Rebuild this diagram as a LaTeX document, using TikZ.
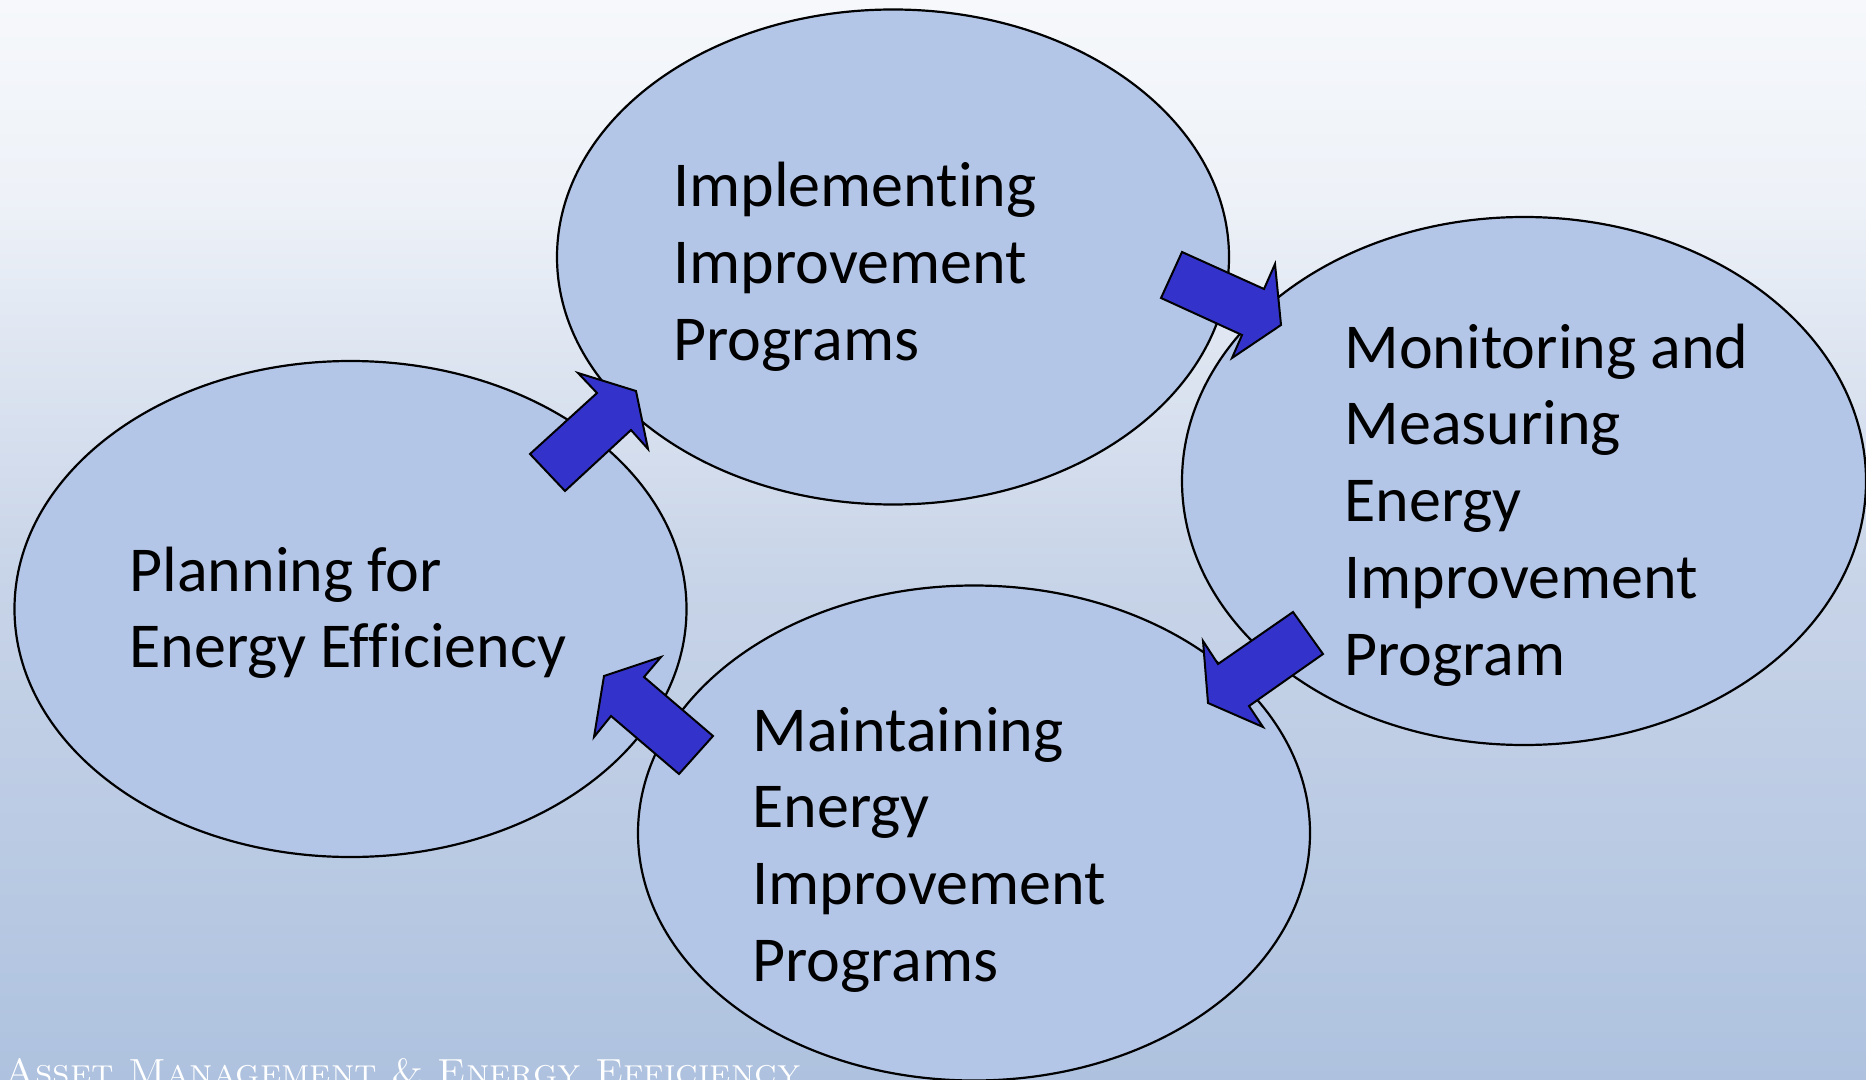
\documentclass[tikz,border=0pt]{standalone}
\usepackage{fontspec}
\usepackage{graphicx}
\newfontfamily\calib[Ligatures=NoCommon]{Carlito}
\usetikzlibrary{shapes.geometric}

\newcommand\stagefont{\calib\fontsize{32}{38.4}\selectfont}
\newcommand\wordgap{\hspace{7pt}}

\definecolor{bgtop}{RGB}{246,248,251}
\definecolor{bgupper}{RGB}{238,242,248}
\definecolor{bgmid}{RGB}{200,212,232}
\definecolor{bgbot}{RGB}{174,194,223}
\definecolor{bubble}{RGB}{180,198,231}
\definecolor{arrowblue}{RGB}{51,51,204}

% a shaded path is fitted to the 25bp..75bp band of the shading
\pgfdeclareverticalshading{backdrop}{100bp}{%
  color(0bp)=(bgbot); color(25bp)=(bgbot); color(48.5bp)=(bgmid);
  color(66bp)=(bgupper); color(75bp)=(bgtop); color(100bp)=(bgtop)}

\tikzset{
  bubble/.style={ellipse, draw=black, line width=1.1pt, fill=bubble, inner sep=0pt},
  label text/.style={font=\stagefont, anchor=base west, inner sep=0pt,
    text width=420pt, align=left, text=black},
  blockarrow/.style={fill=arrowblue, draw=black, line width=1pt, line join=miter},
}

\begin{document}
\begin{tikzpicture}[x=0.5pt, y=-0.5pt]
  \useasboundingbox (0,0) rectangle (1866,1080);
  \clip (0,0) rectangle (1866,1080);
  \shade[shading=backdrop] (0,0) rectangle (1866,1080);

  % the four stages
  \node[bubble, minimum width=336pt, minimum height=247.5pt] (impl)  at (893,257) {};
  \node[bubble, minimum width=342pt, minimum height=264pt]   (mon)   at (1524,481) {};
  \node[bubble, minimum width=336pt, minimum height=248pt]   (plan)  at (350.5,609) {};
  \node[bubble, minimum width=336pt, minimum height=247.5pt] (maint) at (974,833) {};

  % stage captions
  \node[label text] (impltext)  at (673,207)   {Implementing\\Improvement\\Programs};
  \node[label text] (montext)   at (1344,368)  {Monitoring\wordgap and\\Measuring\\Energy\\Improvement\\Program};
  \node[label text] (plantext)  at (129,591)   {Planning\wordgap for\\Energy\wordgap Efficiency};
  \node[label text] (mainttext) at (752,751)   {Maintaining\\Energy\\Improvement\\Programs};

  % block arrows of the cycle
  \draw[blockarrow] (530,454) -- (565,491) -- (631,430) -- (648,449) -- (636,391)
        -- (578,373) -- (597,393) -- cycle;
  \draw[blockarrow] (1182,252) -- (1264,289) -- (1275,264) -- (1281,325) -- (1232,358)
        -- (1242,335) -- (1161,298) -- cycle;
  \draw[blockarrow] (1293,612) -- (1323,654) -- (1249,706) -- (1263,727) -- (1208,703)
        -- (1203,641) -- (1218,664) -- cycle;
  \draw[blockarrow] (713,736) -- (679,774) -- (611,716) -- (594,737) -- (604,676)
        -- (661,657) -- (644,677) -- cycle;

  % footer
  \node[anchor=base west, inner sep=0pt, text=white] (footer) at (4,1084)
    {\resizebox{398pt}{13pt}{\textsc{Asset Management \& Energy Efficiency}}};
\end{tikzpicture}
\end{document}
